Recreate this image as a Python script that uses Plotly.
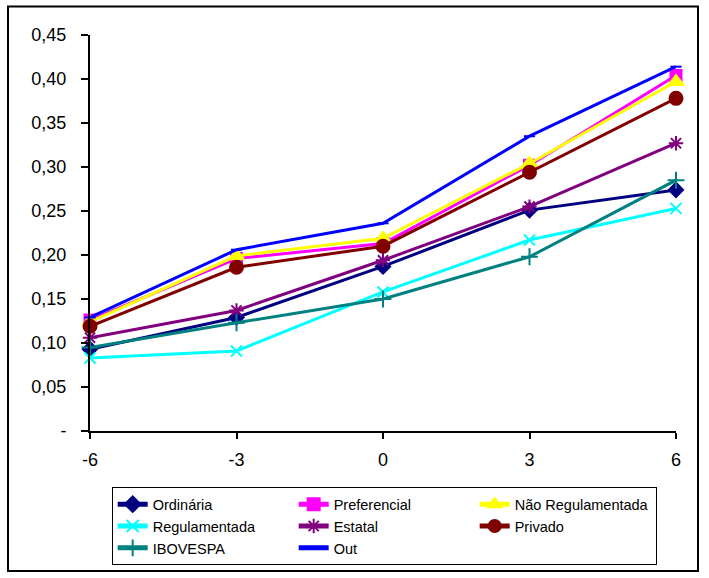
import plotly.graph_objects as go

x_vals = [-6, -3, 0, 3, 6]
ordinaria = [0.093, 0.129, 0.187, 0.251, 0.274]
preferencial = [0.126, 0.196, 0.213, 0.302, 0.404]
nao_regulamentada = [0.124, 0.199, 0.219, 0.304, 0.397]
regulamentada = [0.083, 0.091, 0.158, 0.217, 0.253]
estatal = [0.106, 0.137, 0.194, 0.255, 0.327]
privado = [0.119, 0.186, 0.210, 0.294, 0.378]
ibovespa = [0.095, 0.123, 0.150, 0.198, 0.285]
out = [0.129, 0.206, 0.236, 0.335, 0.414]

y_ticks = [0, 0.05, 0.10, 0.15, 0.20, 0.25, 0.30, 0.35, 0.40, 0.45]
y_tick_labels = ["-", "0,05", "0,10", "0,15", "0,20", "0,25", "0,30", "0,35", "0,40", "0,45"]

series = [
    ("Ordinária", ordinaria, "#000080", "diamond", 11),
    ("Preferencial", preferencial, "#FF00FF", "square", 11),
    ("Não Regulamentada", nao_regulamentada, "#FFFF00", "triangle-up", 13),
    ("Regulamentada", regulamentada, "#00FFFF", "x-thin-open", 11),
    ("Estatal", estatal, "#800080", "asterisk-open", 12),
    ("Privado", privado, "#800000", "circle", 13),
    ("IBOVESPA", ibovespa, "#008080", "cross-thin-open", 12),
    ("Out", out, "#0000FF", "line-ew-open", 8),
]

fig = go.Figure()
for name, vals, color, sym, size in series:
    fig.add_trace(go.Scatter(
        x=x_vals, y=vals, name=name, mode="lines+markers",
        line=dict(color=color, width=3),
        marker=dict(symbol=sym, size=size, color=color, line=dict(color=color, width=2)),
        cliponaxis=False,
    ))

fig.update_layout(
    width=709, height=578,
    margin=dict(l=90, r=33, t=35, b=147, autoexpand=False),
    paper_bgcolor="white", plot_bgcolor="white",
    font=dict(family="Liberation Sans, Arial", size=18, color="black"),
    showlegend=True,
    legend=dict(
        orientation="h", x=0.037, y=-0.142, xanchor="left", yanchor="top",
        entrywidth=136, entrywidthmode="pixels",
        bordercolor="black", borderwidth=1,
        font=dict(size=14.5, family="Liberation Sans, Arial"),
        itemsizing="constant",
    ),
    xaxis=dict(
        range=[-6, 6], tickvals=x_vals, ticktext=[str(v) for v in x_vals],
        showgrid=False, zeroline=False, showline=True, linecolor="black", linewidth=2,
        ticks="outside", ticklen=6, tickwidth=2, tickcolor="black",
        ticklabelstandoff=5,
    ),
    yaxis=dict(
        range=[0, 0.45], tickvals=y_ticks, ticktext=y_tick_labels,
        showgrid=False, zeroline=False, showline=True, linecolor="black", linewidth=2,
        ticks="outside", ticklen=7, tickwidth=2, tickcolor="black",
        ticklabelstandoff=11,
    ),
    shapes=[dict(
        type="rect", xref="paper", yref="paper",
        x0=(8 - 90) / 586, x1=(698 - 90) / 586,
        y0=(431 - 571) / 396, y1=(431 - 6.5) / 396,
        line=dict(color="black", width=2), fillcolor="rgba(0,0,0,0)", layer="below",
    )],
)

fig.write_html("out.html", config={"displayModeBar": False})

with open("out.html", "r", encoding="utf-8") as f:
    html = f.read()
html = html.replace("<body>", '<body style="margin:0;padding:0;overflow:hidden">', 1)
with open("out.html", "w", encoding="utf-8") as f:
    f.write(html)
